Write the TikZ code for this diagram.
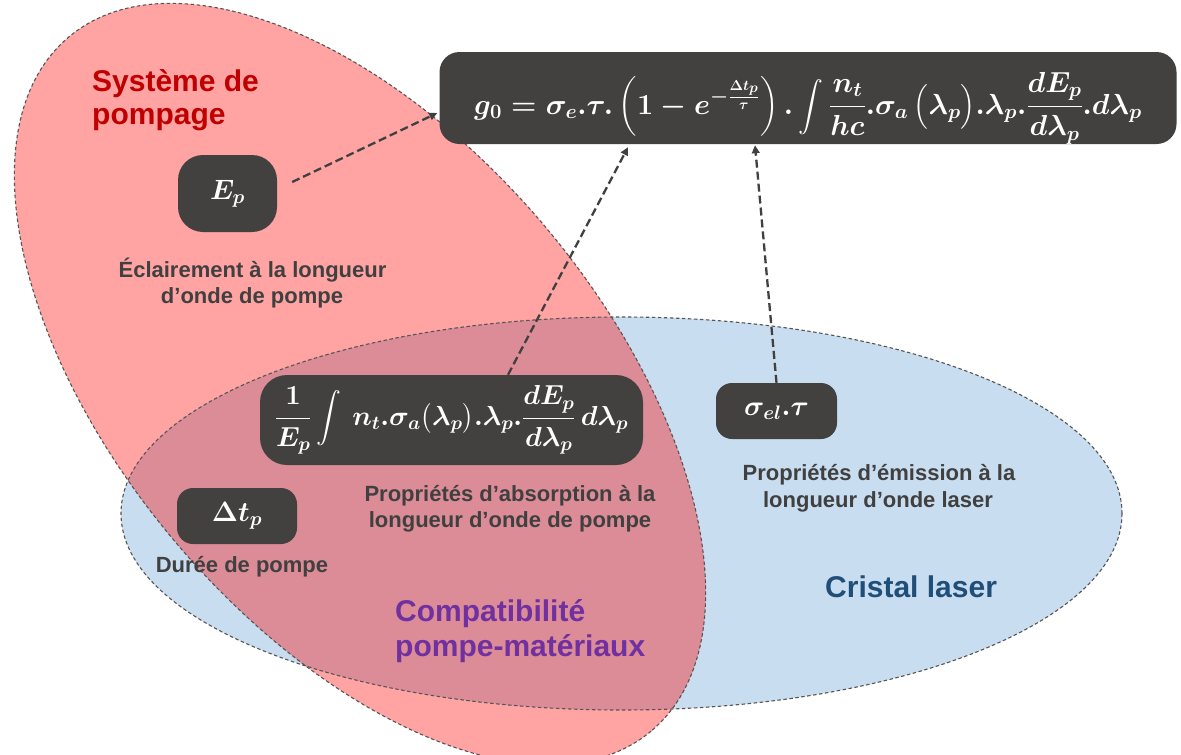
\RequirePackage{fix-cm}
\documentclass[tikz,border=0pt]{standalone}
\usepackage{amsmath}
\usepackage[no-math]{fontspec}
\setmainfont{Liberation Sans}
\usetikzlibrary{arrows.meta,calc}
\definecolor{redfill}{RGB}{255,163,163}
\definecolor{bluefill}{RGB}{201,221,240}
\definecolor{mixfill}{RGB}{219,140,151}
\definecolor{boxfill}{RGB}{67,65,63}
\definecolor{txtgray}{RGB}{64,64,64}
\definecolor{titred}{RGB}{192,0,0}
\definecolor{titpurple}{RGB}{112,48,160}
\definecolor{titblue}{RGB}{31,78,121}
\definecolor{edgegray}{RGB}{85,85,85}
\newsavebox{\gainbox}
\newsavebox{\absbox}
\newsavebox{\epbox}
\newsavebox{\sigbox}
\newsavebox{\dtbox}
\begin{document}
\sbox{\gainbox}{\fontsize{29}{34}\selectfont\color{white}\boldmath$\displaystyle g_0=\sigma_e.\tau.\left(1-e^{-\frac{\Delta t_p}{\tau}}\right).\int\frac{n_t}{hc}.\sigma_a\,\bigl(\lambda_p\bigr).\lambda_p.\frac{dE_p}{d\lambda_p}.d\lambda_p$}%
\sbox{\absbox}{\fontsize{27.5}{32}\selectfont\color{white}\boldmath$\displaystyle \frac{1}{E_p}\int\, n_t.\sigma_a\bigl(\lambda_p\bigr).\lambda_p.\frac{dE_p}{d\lambda_p}\,d\lambda_p$}%
\sbox{\epbox}{\fontsize{28}{32}\selectfont\color{white}\boldmath$E_p$}%
\sbox{\sigbox}{\fontsize{28}{32}\selectfont\color{white}\boldmath$\sigma_{el}.\tau$}%
\sbox{\dtbox}{\fontsize{28}{32}\selectfont\color{white}\boldmath$\Delta t_p$}%
\begin{tikzpicture}[x=1pt,y=-1pt,
  zone/.style={draw=edgegray,line width=1.1pt,dash pattern=on 3.5pt off 2.5pt},
  darkbox/.style={fill=boxfill,inner sep=0pt,anchor=center},
  lbl/.style={text=txtgray,font=\fontsize{22}{27}\selectfont\bfseries,inner sep=0pt,anchor=base},
  ttl/.style={font=\fontsize{30}{36}\selectfont\bfseries,inner sep=0pt,anchor=base west},
  arr/.style={draw=txtgray,line width=2.3pt,dash pattern=on 8pt off 4pt,-{Triangle[length=8pt,width=7.5pt]}},
  redell/.style={rotate around={-50:(360,384)}}
]
\fill[white] (0,0) rectangle (1181,755);
\useasboundingbox (0,0) rectangle (1181,755);
% zones
\fill[bluefill] (621.5,513.5) ellipse [x radius=500.5, y radius=196.5];
\fill[redfill,redell] (360,384) ellipse [x radius=453, y radius=243];
\begin{scope}
  \clip (621.5,513.5) ellipse [x radius=500.5, y radius=196.5];
  \fill[mixfill,redell] (360,384) ellipse [x radius=453, y radius=243];
\end{scope}
\draw[zone] (621.5,513.5) ellipse [x radius=500.5, y radius=196.5];
\draw[zone,redell] (360,384) ellipse [x radius=453, y radius=243];
% titles
\node[ttl,text=titred] (t1a) at (92,91) {Système de};
\node[ttl,text=titred] (t1b) at (92,124) {pompage};
\node[ttl,text=titpurple] (t2a) at (395,621) {Compatibilité};
\node[ttl,text=titpurple] (t2b) at (395,656) {pompe-matériaux};
\node[ttl,text=titblue] (t3) at (825,597) {Cristal laser};
% labels
\node[lbl] (l1a) at (252.5,277) {Éclairement à la longueur};
\node[lbl] (l1b) at (252,303) {d’onde de pompe};
\node[lbl] (l2a) at (510,501) {Propriétés d’absorption à la};
\node[lbl] (l2b) at (510,527) {longueur d’onde de pompe};
\node[lbl] (l3) at (242,572) {Durée de pompe};
\node[lbl] (l4a) at (879,480) {Propriétés d’émission à la};
\node[lbl] (l4b) at (878,507) {longueur d’onde laser};
% formula boxes
\node[darkbox,minimum width=737pt,minimum height=92pt,rounded corners=20pt] (eq1) at (808,98) {\smash{\raisebox{-16pt}{\usebox{\gainbox}}}};
\node[darkbox,minimum width=383pt,minimum height=90pt,rounded corners=27pt] (eq2) at (451.5,420) {\usebox{\absbox}};
\node[darkbox,minimum width=99pt,minimum height=77pt,rounded corners=25pt] (ep) at (227.5,193.5) {\usebox{\epbox}};
\node[darkbox,minimum width=121pt,minimum height=56pt,rounded corners=16pt] (sig) at (776.5,411) {\usebox{\sigbox}};
\node[darkbox,minimum width=120pt,minimum height=56pt,rounded corners=16pt] (dt) at (237,516) {\usebox{\dtbox}};
% connectors
\draw[arr] ($(ep.east)+(15,-11.5)$) -- ($(eq1.west)+(-2,15)$);
\draw[arr] ($(eq2.north)+(56.5,0)$) -- ($(eq1.south)+(-180,3)$);
\draw[arr] (sig.north) -- ($(eq1.south)+(-53,1)$);
\end{tikzpicture}
\end{document}
